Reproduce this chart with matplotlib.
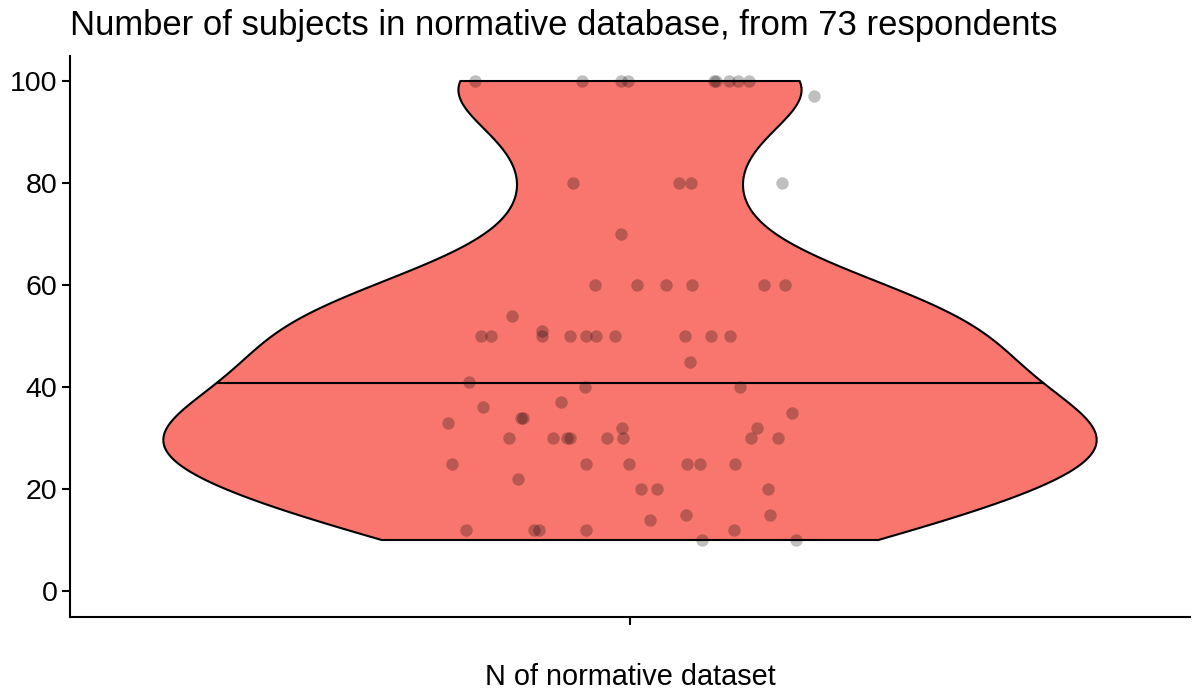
import numpy as np
import matplotlib
matplotlib.use("Agg")
from matplotlib import pyplot as plt

plt.rcParams['font.family'] = ['Liberation Sans', 'DejaVu Sans']

# N of normative dataset, one value per respondent (73)
n_subjects = [100, 100, 100, 100, 100, 100, 100, 100, 100,
              97,
              80, 80, 80, 80,
              70,
              60, 60, 60, 60, 60, 60,
              54,
              50, 50, 51, 50, 50, 50, 50, 50, 50, 50, 50,
              45, 41, 40, 40, 37, 36, 35, 34, 34, 33, 32, 32,
              30, 30, 30, 30, 30, 30, 30, 30,
              25, 25, 25, 25, 25, 25,
              22,
              20, 20, 20,
              15, 15, 14,
              12, 12, 12, 12, 12,
              10, 10]

# horizontal jitter of each point (category units)
jitter_x = [-0.166, -0.051, -0.010, -0.002, 0.090, 0.092, 0.106, 0.116, 0.128,
            0.197,
            -0.061, 0.052, 0.065, 0.163,
            -0.010,
            -0.038, 0.007, 0.039, 0.066, 0.144, 0.166,
            -0.126,
            -0.160, -0.149, -0.094, -0.094, -0.064, -0.047, -0.036, -0.016, 0.059, 0.087, 0.107,
            0.064, -0.172, -0.048, 0.118, -0.074, -0.157, 0.174, -0.117, -0.115, -0.195, -0.009, 0.136,
            -0.130, -0.082, -0.067, -0.064, -0.025, -0.007, 0.130, 0.159,
            -0.191, -0.047, -0.001, 0.061, 0.075, 0.113,
            -0.120,
            0.012, 0.029, 0.148,
            0.060, 0.150, 0.021,
            -0.176, -0.103, -0.098, -0.047, 0.111,
            0.077, 0.178]

title = "Number of subjects in normative database, from 73 respondents"
xlabel = "N of normative dataset"

y = np.array(n_subjects, dtype=float)

# gaussian kde with R's bw.nrd0, trimmed to data range (ggplot geom_violin)
sd = y.std(ddof=1)
iqr = np.subtract(*np.percentile(y, [75, 25]))
bw = 0.9 * min(sd, iqr / 1.34) * len(y) ** (-0.2)
grid = np.linspace(y.min(), y.max(), 512)
dens = np.exp(-0.5 * ((grid[:, None] - y[None, :]) / bw) ** 2).sum(axis=1)
dens = dens / (len(y) * bw * np.sqrt(2 * np.pi))
half = 0.5 * dens / dens.max()

cdf = np.cumsum(dens) / dens.sum()
q50 = np.interp(0.5, cdf, grid)
half50 = np.interp(q50, grid, half)

fig = plt.figure(figsize=(11.95, 6.94), dpi=100)
ax = fig.add_axes([70 / 1195, 1 - 616.5 / 694, 1120 / 1195, 561 / 694])

xs = np.concatenate([1 - half, (1 + half)[::-1]])
ys = np.concatenate([grid, grid[::-1]])
ax.fill(xs, ys, facecolor="#F8766D", edgecolor="black", linewidth=1.5, zorder=1)
ax.plot([1 - half50, 1 + half50], [q50, q50], color="black", linewidth=1.5, zorder=2)

ax.scatter(1 + np.array(jitter_x), y, s=80, color="black", alpha=0.25,
           linewidths=0, zorder=3)

ax.set_xlim(0.4, 1.6)
ax.set_ylim(-5, 105)
ax.set_xticks([1])
ax.set_xticklabels([""])
ax.set_yticks([0, 20, 40, 60, 80, 100])
ax.tick_params(axis="both", length=6, width=1.5, labelsize=20.5, colors="black")
ax.tick_params(axis="y", pad=3)
for s in ["top", "right"]:
    ax.spines[s].set_visible(False)
for s in ["left", "bottom"]:
    ax.spines[s].set_linewidth(1.5)

ax.set_xlabel(xlabel, fontsize=20.8)
ax.xaxis.set_label_coords(0.5, -0.083)
ax.set_title(title, loc="left", fontsize=24.9, pad=15)

fig.savefig("out.png", dpi=100)
